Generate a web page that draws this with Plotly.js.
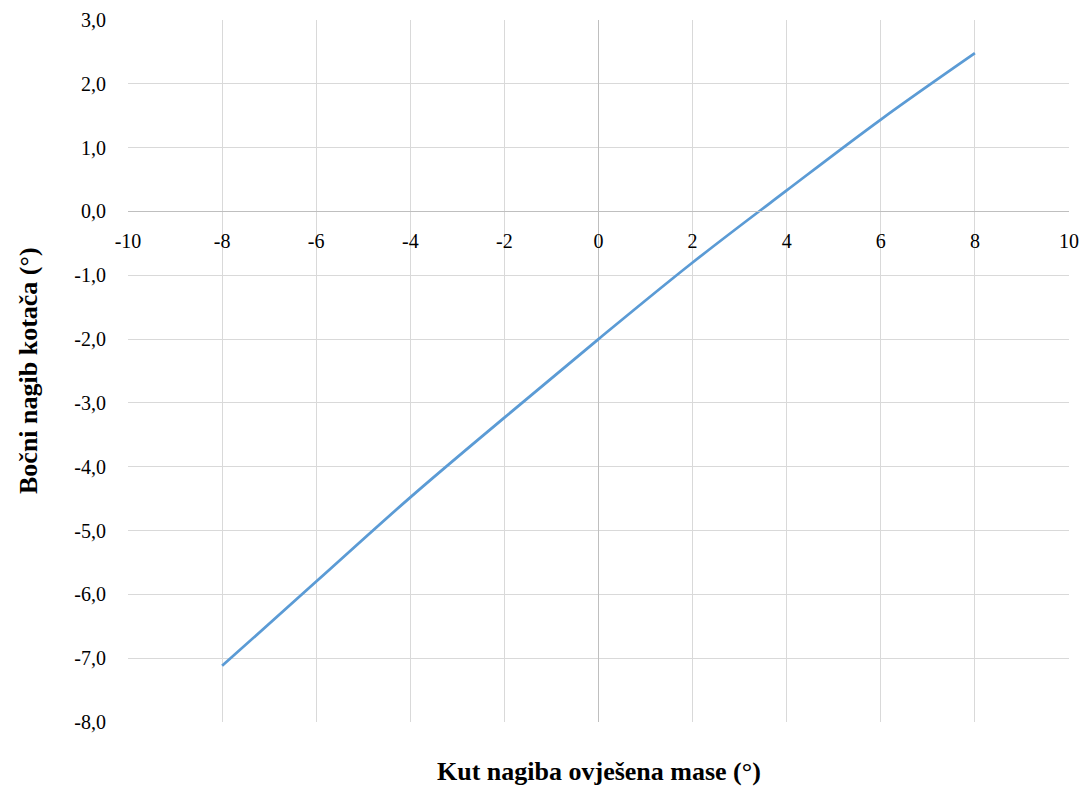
<!DOCTYPE html>
<html>
<head>
<meta charset="utf-8">
<script src="https://cdn.plot.ly/plotly-3.0.1.min.js"></script>
<style>html,body{margin:0;padding:0;background:#fff;}#chart{width:1086px;height:787px;}</style>
</head>
<body>
<div id="chart"></div>
<script>
var xValues = [-8, -6, -4, -2, 0, 2, 4, 6, 8];
var yValues = [-7.12, -5.80, -4.48, -3.23, -2.0, -0.80, 0.33, 1.44, 2.48];
var xTickVals = [-10, -8, -6, -4, -2, 0, 2, 4, 6, 8, 10];
var xTickLabels = ["-10", "-8", "-6", "-4", "-2", "0", "2", "4", "6", "8", "10"];
var yTickVals = [-8, -7, -6, -5, -4, -3, -2, -1, 0, 1, 2, 3];
var yTickLabels = ["-8,0", "-7,0", "-6,0", "-5,0", "-4,0", "-3,0", "-2,0", "-1,0", "0,0", "1,0", "2,0", "3,0"];
var xTitle = "Kut nagiba ovješena mase (°)";
var yTitle = "Bočni nagib kotača (°)";

var trace = {
  x: xValues, y: yValues, type: 'scatter', mode: 'lines',
  line: {color: '#5b9bd5', width: 2.75, shape: 'spline', smoothing: 1}, hoverinfo: 'skip'
};
var serif = '"Liberation Serif", "Times New Roman", serif';
var layout = {
  width: 1086, height: 787,
  margin: {l: 128, r: 17, t: 20, b: 65},
  paper_bgcolor: '#ffffff', plot_bgcolor: '#ffffff',
  showlegend: false,
  font: {family: serif, size: 20, color: '#000000'},
  xaxis: {
    range: [-10, 10], tickmode: 'array', tickvals: xTickVals, ticktext: xTickLabels,
    anchor: 'free', position: 8/11,
    showline: true, linecolor: '#bfbfbf', linewidth: 1,
    showgrid: true, gridcolor: '#d9d9d9', gridwidth: 1,
    zeroline: true, zerolinecolor: '#bfbfbf', zerolinewidth: 1,
    ticks: 'outside', ticklen: 12, tickcolor: 'rgba(0,0,0,0)',
    tickfont: {family: serif, size: 20, color: '#000'},
    title: {text: ''}
  },
  yaxis: {
    range: [-8, 3], tickmode: 'array', tickvals: yTickVals, ticktext: yTickLabels,
    showline: false,
    showgrid: true, gridcolor: '#d9d9d9', gridwidth: 1,
    zeroline: false,
    ticks: 'outside', ticklen: 17, tickcolor: 'rgba(0,0,0,0)',
    tickfont: {family: serif, size: 20, color: '#000'},
    title: {text: ''}
  },
  annotations: [
    {text: '<b>' + xTitle + '</b>', xref: 'paper', yref: 'paper', x: 0.5, y: 0,
     yshift: -49, showarrow: false, xanchor: 'center', yanchor: 'middle',
     font: {family: serif, size: 26, color: '#000'}},
    {text: '<b>' + yTitle + '</b>', xref: 'paper', yref: 'paper', x: 0, y: 0.5,
     xshift: -100, showarrow: false, textangle: -90, xanchor: 'center', yanchor: 'middle',
     font: {family: serif, size: 26, color: '#000'}}
  ]
};
Plotly.newPlot('chart', [trace], layout, {staticPlot: true, displayModeBar: false});
</script>
</body>
</html>
